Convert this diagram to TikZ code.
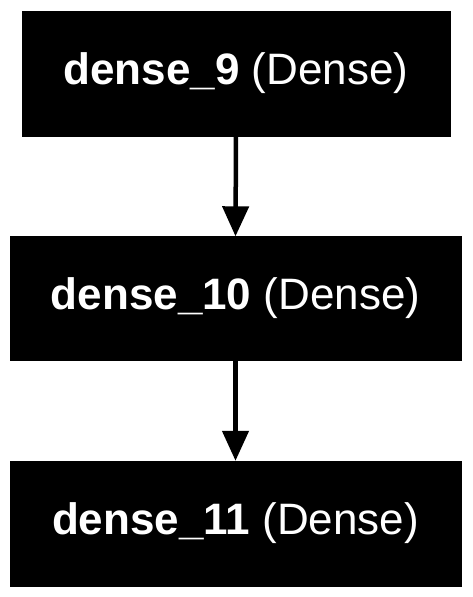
\documentclass[tikz,border=0pt]{standalone}
\usepackage{fontspec}
\setmainfont{Liberation Sans}
\usetikzlibrary{arrows.meta}
\tikzset{
  layerbox/.style={fill=black, draw=black, text=white, inner sep=0pt, font=\fontsize{44}{48}\selectfont},
  flow/.style={line width=4.5pt, -{Triangle[length=30pt,width=26pt]}}
}
\begin{document}
\begin{tikzpicture}[x=1pt,y=-1pt]
\useasboundingbox (0,0) rectangle (472,597);
\fill[white] (0,0) rectangle (472,597);
\node[layerbox, minimum width=428pt, minimum height=125pt] (d9) at (236,73.5) {\textbf{dense\_9} (Dense)};
\node[layerbox, minimum width=451pt, minimum height=124pt] (d10) at (235.5,298.5) {\textbf{dense\_10} (Dense)};
\node[layerbox, minimum width=451pt, minimum height=125pt] (d11) at (235.5,523.5) {\textbf{dense\_11} (Dense)};
\draw[flow] (d9.south) -- (d10.north);
\draw[flow] (d10.south) -- (d11.north);
\end{tikzpicture}
\end{document}
